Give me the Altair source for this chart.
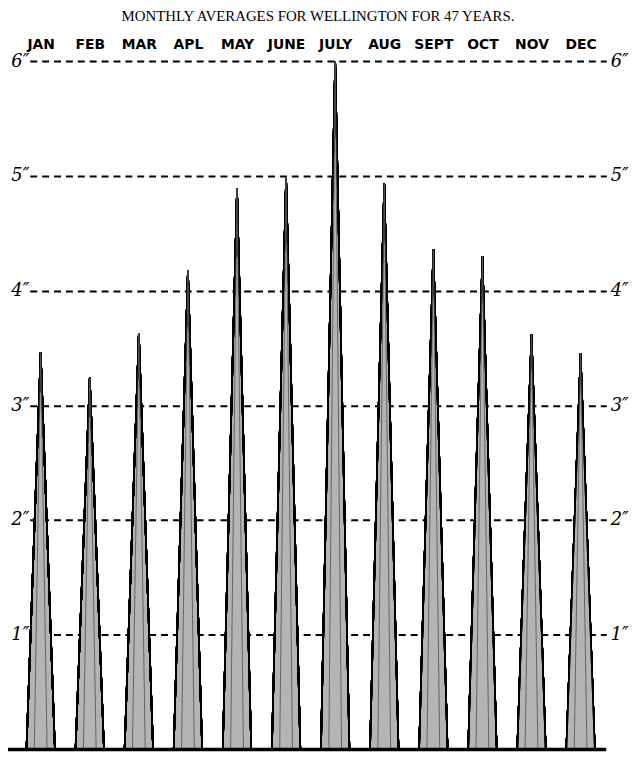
import altair as alt
import pandas as pd

# Data (inches of rain, monthly averages)
months = ["JAN", "FEB", "MAR", "APL", "MAY", "JUNE", "JULY", "AUG", "SEPT", "OCT", "NOV", "DEC"]
rain = [3.46, 3.24, 3.63, 4.18, 4.89, 4.99, 6.0, 4.93, 4.36, 4.30, 3.62, 3.45]
inch_ticks = [1, 2, 3, 4, 5, 6]

HALF = 0.29    # half-width of each spike's base, in month units (style)
INNER = 0.13   # half-width of the inner shading outline (style)

rows, inner_rows = [], []
for i, (m, v) in enumerate(zip(months, rain)):
    rows.append({"month": m, "x": i - HALF, "y": 0.0, "o": 0})
    rows.append({"month": m, "x": i, "y": v, "o": 1})
    rows.append({"month": m, "x": i + HALF, "y": 0.0, "o": 2})
    inner_rows.append({"month": m, "x": i - INNER, "y": 0.0, "o": 0})
    inner_rows.append({"month": m, "x": i, "y": v, "o": 1})
    inner_rows.append({"month": m, "x": i + INNER, "y": 0.0, "o": 2})
df = pd.DataFrame(rows)
df_inner = pd.DataFrame(inner_rows)

W, H = 582, 695
xscale = alt.Scale(domain=[-0.222, 11.523], nice=False, zero=False)
yscale = alt.Scale(domain=[0, 6], nice=False)

names_js = "[" + ",".join("'%s'" % m for m in months) + "]"

left_axis = alt.Axis(
    orient="left", values=inch_ticks, labelExpr="datum.value + '\u2033'",
    grid=True, gridColor="black", gridDash=[7, 5], gridWidth=2, gridOpacity=1,
    domain=False, ticks=False, labelFont="DejaVu Serif", labelFontStyle="italic",
    labelFontSize=18, labelColor="black", labelPadding=1, title=None,
)
right_axis = alt.Axis(
    orient="right", values=inch_ticks, labelExpr="datum.value + '\u2033'",
    grid=False, domain=False, ticks=False, labelFont="DejaVu Serif",
    labelFontStyle="italic", labelFontSize=18, labelColor="black",
    labelPadding=4, title=None,
)
top_axis = alt.Axis(
    orient="top", values=list(range(len(months))),
    labelExpr=names_js + "[datum.value]", grid=False, domain=False, ticks=False,
    labelFont="DejaVu Sans", labelFontSize=14, labelFontWeight="bold",
    labelColor="black", labelPadding=10, title=None, labelAngle=0,
)

spikes = alt.Chart(df).mark_area(
    fill="#b4b4b4", stroke="black", strokeWidth=1.6, strokeJoin="miter", opacity=1
).encode(
    x=alt.X("x:Q", scale=xscale, axis=top_axis),
    y=alt.Y("y:Q", scale=yscale, axis=left_axis),
    detail="month:N",
    order="o:Q",
)

shading = alt.Chart(df_inner).mark_line(
    color="#5a5a5a", strokeWidth=0.9
).encode(
    x=alt.X("x:Q", scale=xscale, axis=top_axis),
    y=alt.Y("y:Q", scale=yscale, axis=None),
    detail="month:N",
    order="o:Q",
)

right = alt.Chart(df).mark_point(opacity=0).encode(
    y=alt.Y("y:Q", scale=yscale, axis=right_axis),
)

base = alt.Chart(pd.DataFrame({"y": [0.0]})).mark_rule(
    color="black", strokeWidth=3.5
).encode(
    y=alt.Y("y:Q", scale=yscale, axis=None),
    x=alt.value(-22), x2=alt.value(W),
)

chart = alt.layer(spikes, shading, right, base).resolve_axis(y="independent").properties(
    width=W, height=H,
    background="white",
    title=alt.TitleParams(
        "MONTHLY AVERAGES FOR WELLINGTON FOR 47 YEARS.",
        font="Liberation Serif", fontSize=15, fontWeight="normal",
        color="black", anchor="middle", offset=13,
    ),
    autosize=alt.AutoSizeParams(type="none"),
    padding={"left": 22, "top": 50, "right": 26, "bottom": 9},
).configure_view(stroke=None).configure_axis(domain=False)

chart.save("out.html", embed_options={"renderer": "svg", "actions": False})
